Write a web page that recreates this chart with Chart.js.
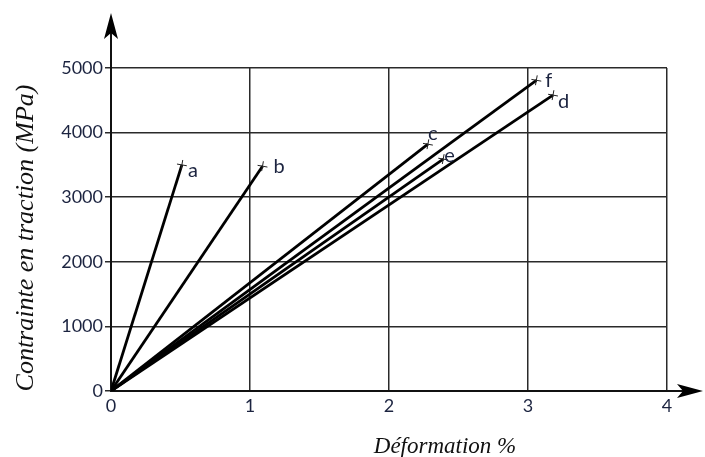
<!DOCTYPE html>
<html>
<head>
<meta charset="utf-8">
<script src="https://cdn.jsdelivr.net/npm/chart.js@4"></script>
<style>
  html, body { margin: 0; padding: 0; background: #fff; }
  #chart { display: block; }
</style>
</head>
<body>
<canvas id="chart" width="705" height="457"></canvas>
<script>
// fibre curves: each goes from origin to its breaking point
const fibres = ["a", "b", "c", "d", "e", "f"];
const strainAtBreak = [0.51, 1.09, 2.28, 3.18, 2.39, 3.06];   // Déformation %
const stressAtBreak = [3500, 3480, 3820, 4580, 3590, 4810];   // MPa
const xTicks = [0, 1, 2, 3, 4];
const yTicks = [0, 1000, 2000, 3000, 4000, 5000];

// where each letter sits next to its cross (px)
const labelOffset = {
  a: [6, 12], b: [11, 7], c: [0, -4], d: [5, 13], e: [1, 3], f: [9, 7]
};

const ink = "#1c2440";
const tickFont = { family: "Lato", size: 18 };

const datasets = fibres.map((name, i) => ({
  label: name,
  data: [{ x: 0, y: 0 }, { x: strainAtBreak[i], y: stressAtBreak[i] }],
  showLine: true,
  borderColor: "#000",
  borderWidth: 2.8,
  pointStyle: "cross",
  pointRadius: [0, 5],
  pointRotation: 10,
  pointBorderWidth: 1,
  pointBorderColor: "#222",
  pointBackgroundColor: "#222"
}));

const decor = {
  id: "decor",
  afterDatasetsDraw(c) {
    const ctx = c.ctx;
    ctx.save();
    ctx.font = "20px Lato";
    ctx.fillStyle = ink;
    ctx.textAlign = "left";
    ctx.textBaseline = "alphabetic";
    c.data.datasets.forEach((ds, i) => {
      const p = c.getDatasetMeta(i).data[1];
      const off = labelOffset[ds.label];
      ctx.fillText(ds.label, p.x + off[0], p.y + off[1]);
    });
    ctx.restore();
  },
  afterDraw(c) {
    const ctx = c.ctx;
    const x0 = c.scales.x.getPixelForValue(0);
    const y0 = c.scales.y.getPixelForValue(0);
    const area = c.chartArea;
    ctx.save();
    ctx.strokeStyle = "#111";
    ctx.fillStyle = "#000";
    ctx.lineWidth = 2;
    // y axis extension + arrow
    ctx.beginPath();
    ctx.moveTo(x0, area.top);
    ctx.lineTo(x0, 30);
    ctx.stroke();
    ctx.beginPath();
    ctx.moveTo(x0, 13);
    ctx.lineTo(x0 + 7, 39);
    ctx.lineTo(x0, 33);
    ctx.lineTo(x0 - 7, 39);
    ctx.closePath();
    ctx.fill();
    // x axis extension + arrow
    ctx.beginPath();
    ctx.moveTo(area.right, y0);
    ctx.lineTo(690, y0);
    ctx.stroke();
    ctx.beginPath();
    ctx.moveTo(703, y0);
    ctx.lineTo(677, y0 - 7);
    ctx.lineTo(683, y0);
    ctx.lineTo(677, y0 + 7);
    ctx.closePath();
    ctx.fill();

    // axis titles
    ctx.fillStyle = "#111";
    ctx.font = "italic 23px 'Liberation Serif'";
    ctx.textAlign = "center";
    ctx.textBaseline = "alphabetic";
    ctx.fillText("Déformation %", 445, 453);
    ctx.translate(33, 238);
    ctx.rotate(-Math.PI / 2);
    ctx.font = "italic 26px 'Liberation Serif'";
    ctx.fillText("Contrainte en traction (MPa)", 0, 0);
    ctx.restore();
  }
};

new Chart(document.getElementById("chart"), {
  type: "scatter",
  data: { datasets },
  plugins: [decor],
  options: {
    responsive: false,
    animation: false,
    devicePixelRatio: 1,
    layout: { padding: { top: 68, right: 38, left: 0, bottom: 0 } },
    plugins: { legend: { display: false }, tooltip: { enabled: false } },
    scales: {
      x: {
        type: "linear",
        min: xTicks[0],
        max: xTicks[xTicks.length - 1],
        afterBuildTicks: s => { s.ticks = xTicks.map(v => ({ value: v })); },
        afterFit: s => { s.height = 66; },
        ticks: { font: tickFont, color: ink, padding: 4, callback: v => String(v) },
        grid: { color: "#2a2a2a", lineWidth: 1.5, drawTicks: false },
        border: { color: "#111", width: 2 }
      },
      y: {
        type: "linear",
        min: yTicks[0],
        max: yTicks[yTicks.length - 1],
        afterBuildTicks: s => { s.ticks = yTicks.map(v => ({ value: v })); },
        afterFit: s => { s.width = 111; },
        ticks: { font: tickFont, color: ink, padding: 2, callback: v => String(v) },
        grid: { color: "#2a2a2a", lineWidth: 1.5, tickLength: 6 },
        border: { color: "#111", width: 2 }
      }
    }
  }
});
</script>
</body>
</html>
